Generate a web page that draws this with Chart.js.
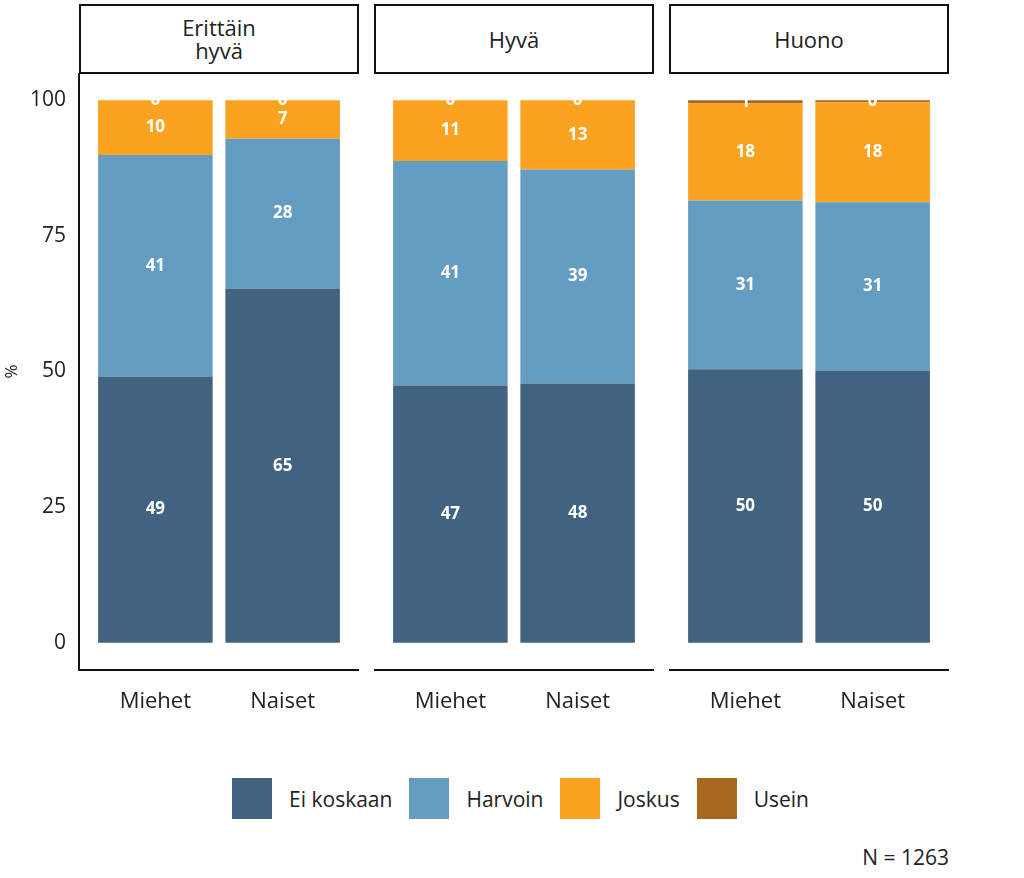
<!DOCTYPE html>
<html lang="fi">
<head>
<meta charset="UTF-8">
<title>Chart</title>
<script src="https://cdn.jsdelivr.net/npm/chart.js"></script>
<style>
  body { margin: 0; background: #fff; font-family: "Open Sans", sans-serif; color: #222; }
  #wrap { position: relative; width: 1024px; height: 878px; overflow: hidden; }
  .strip { position: absolute; top: 4px; height: 70px; box-sizing: border-box; border: 2px solid #111;
           display: flex; align-items: center; justify-content: center; text-align: center;
           font-size: 22px; line-height: 23px; white-space: pre-line; }
  canvas { position: absolute; top: 73px; }
  #legend { position: absolute; top: 778px; left: 0; width: 1058px; display: flex; justify-content: center; align-items: center; }
  .item { display: flex; align-items: center; font-size: 21px; }
  .box { width: 40px; height: 41px; margin-right: 17px; }
  .item span { margin-right: 17px; }
  #note { position: absolute; right: 75px; top: 843px; font-size: 21px; }
</style>
</head>
<body>
<div id="wrap">
  <div id="legend"></div>
  <div id="note">N = 1263</div>
</div>
<script>
  // luokat ja sarjat
  const categories = ['Miehet', 'Naiset'];
  const panels = ['Erittäin\nhyvä', 'Hyvä', 'Huono'];
  const seriesNames = ['Ei koskaan', 'Harvoin', 'Joskus', 'Usein'];
  // arvot paneeleittain: [Miehet, Naiset]
  const eiKoskaan = [[49.1, 65.3], [47.4, 47.8], [50.4, 50.2]];
  const harvoin   = [[40.8, 27.6], [41.4, 39.4], [31.1, 31.0]];
  const joskus    = [[10.1, 7.1], [11.2, 12.8], [17.9, 18.4]];
  const usein     = [[0, 0], [0, 0], [0.6, 0.4]];
  const yTicks = [0, 25, 50, 75, 100];

  const seriesValues = [eiKoskaan, harvoin, joskus, usein];
  const colors = ['#41637f', '#659cc1', '#fba321', '#a8691f'];
  const font = '"Open Sans", sans-serif';

  // paneelien sijainnit sivulla
  const panelLeft = [79, 374, 669];
  const panelWidth = 280;

  // valkoiset arvot palkkien keskelle
  const barLabels = {
    id: 'barLabels',
    afterDatasetsDraw(chart) {
      const ctx = chart.ctx;
      ctx.save();
      ctx.font = 'bold 17px ' + font;
      ctx.fillStyle = '#fff';
      ctx.textAlign = 'center';
      ctx.textBaseline = 'middle';
      chart.data.datasets.forEach((ds, di) => {
        chart.getDatasetMeta(di).data.forEach((bar, i) => {
          ctx.fillText(Math.round(ds.data[i].y), bar.x, (bar.y + bar.base) / 2);
        });
      });
      ctx.restore();
    }
  };

  const wrap = document.getElementById('wrap');

  panels.forEach((title, p) => {
    const first = p === 0;

    const strip = document.createElement('div');
    strip.className = 'strip';
    strip.style.left = panelLeft[p] + 'px';
    strip.style.width = panelWidth + 'px';
    strip.textContent = title;
    wrap.appendChild(strip);

    const canvas = document.createElement('canvas');
    const left = first ? 0 : panelLeft[p];
    canvas.width = first ? panelLeft[p] + panelWidth : panelWidth;
    canvas.height = 660;
    canvas.style.left = left + 'px';
    wrap.appendChild(canvas);

    new Chart(canvas, {
      type: 'bar',
      data: {
        datasets: seriesNames.map((name, s) => ({
          label: name,
          data: categories.map((c, i) => ({ x: i + 1, y: seriesValues[s][p][i] })),
          backgroundColor: colors[s],
          borderWidth: 0,
          barPercentage: 0.9,
          categoryPercentage: 1
        }))
      },
      options: {
        responsive: false,
        animation: false,
        layout: { padding: 0 },
        plugins: { legend: { display: false }, tooltip: { enabled: false } },
        scales: {
          x: {
            type: 'linear',
            min: 0.4,
            max: 2.6,
            offset: false,
            stacked: true,
            afterBuildTicks: s => { s.ticks = [{ value: 1 }, { value: 2 }]; },
            ticks: {
              callback: v => categories[v - 1],
              font: { family: font, size: 22 },
              color: '#222',
              padding: 19,
              maxRotation: 0,
              autoSkip: false
            },
            grid: { display: false, drawTicks: false },
            border: { color: '#111', width: 2 },
            afterFit: s => { s.height = 63; s.paddingLeft = 0; s.paddingRight = 0; }
          },
          y: {
            display: first,
            min: -5,
            max: 105,
            stacked: true,
            afterBuildTicks: s => { s.ticks = yTicks.map(v => ({ value: v })); },
            ticks: { font: { family: font, size: 21 }, color: '#222', padding: 13 },
            grid: { display: false, drawTicks: false },
            border: { color: '#111', width: 2 },
            title: { display: true, text: '%', font: { family: font, size: 17 }, color: '#222', padding: { top: 2, bottom: 0 } },
            afterFit: s => { if (first) s.width = panelLeft[0]; s.paddingTop = 0; s.paddingBottom = 0; }
          }
        }
      },
      plugins: [barLabels]
    });
  });

  // yhteinen selite
  const legend = document.getElementById('legend');
  seriesNames.forEach((name, s) => {
    const item = document.createElement('div');
    item.className = 'item';
    item.innerHTML = '<div class="box" style="background:' + colors[s] + '"></div><span>' + name + '</span>';
    legend.appendChild(item);
  });
</script>
</body>
</html>
